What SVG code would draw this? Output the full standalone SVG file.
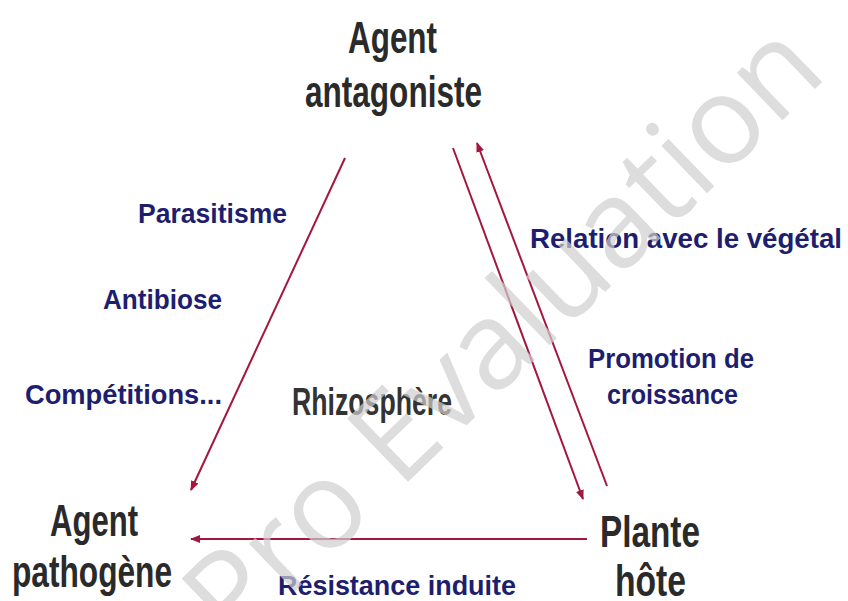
<svg xmlns="http://www.w3.org/2000/svg" width="848" height="601" viewBox="0 0 848 601">
<style>
.node{font-family:"Liberation Sans","DejaVu Sans",sans-serif;font-size:44px;font-weight:bold;fill:#2a2a2a}
.lab{font-family:"Liberation Sans","DejaVu Sans",sans-serif;font-size:27px;font-weight:bold;fill:#1e1e6e}
.center{font-family:"Liberation Sans","DejaVu Sans",sans-serif;font-size:38px;font-weight:bold;fill:#333333}
.edge{stroke:#a3173f;stroke-width:2;fill:none}
.wm{font-family:"Open Sans","Noto Sans",sans-serif;font-size:123px;fill:#cfcfcf;opacity:0.7}
</style>
<defs>
<marker id="ah" markerWidth="10" markerHeight="8" refX="9" refY="4" orient="auto" markerUnits="userSpaceOnUse">
<path d="M0,0 L10,4 L0,8 Z" fill="#a3173f"/>
</marker>
</defs>
<rect width="848" height="601" fill="#ffffff"/>
<g id="connectors">
<line class="edge" x1="345" y1="158" x2="191" y2="490" marker-end="url(#ah)"/>
<line class="edge" x1="453" y1="148" x2="583" y2="499" marker-end="url(#ah)"/>
<line class="edge" x1="607" y1="486" x2="477" y2="143" marker-end="url(#ah)"/>
<line class="edge" x1="587" y1="539" x2="191" y2="539" marker-end="url(#ah)"/>
</g>
<g id="node-antagoniste">
<text class="node" x="348" y="53" textLength="89" lengthAdjust="spacingAndGlyphs">Agent</text>
<text class="node" x="305" y="107" textLength="177" lengthAdjust="spacingAndGlyphs">antagoniste</text>
</g>
<g id="node-pathogene">
<text class="node" x="50" y="536" textLength="88" lengthAdjust="spacingAndGlyphs">Agent</text>
<text class="node" x="12" y="587" textLength="160" lengthAdjust="spacingAndGlyphs">pathogène</text>
</g>
<g id="node-plante">
<text class="node" x="600" y="547" textLength="100" lengthAdjust="spacingAndGlyphs">Plante</text>
<text class="node" x="615" y="596" textLength="71" lengthAdjust="spacingAndGlyphs">hôte</text>
</g>
<g id="center">
<text class="center" x="292" y="415" textLength="160" lengthAdjust="spacingAndGlyphs">Rhizosphère</text>
</g>
<g id="labels">
<text class="lab" x="138" y="223" textLength="149" lengthAdjust="spacingAndGlyphs">Parasitisme</text>
<text class="lab" x="103" y="309" textLength="119" lengthAdjust="spacingAndGlyphs">Antibiose</text>
<text class="lab" x="25" y="404" textLength="197" lengthAdjust="spacingAndGlyphs">Compétitions...</text>
<text class="lab" x="530" y="248" textLength="312" lengthAdjust="spacingAndGlyphs">Relation avec le végétal</text>
<text class="lab" x="588" y="368" textLength="166" lengthAdjust="spacingAndGlyphs">Promotion de</text>
<text class="lab" x="607" y="404" textLength="131" lengthAdjust="spacingAndGlyphs">croissance</text>
<text class="lab" x="278" y="595" textLength="238" lengthAdjust="spacingAndGlyphs">Résistance induite</text>
</g>
<text class="wm" transform="translate(234,650) rotate(-44)">Pro Evaluation</text>
</svg>
